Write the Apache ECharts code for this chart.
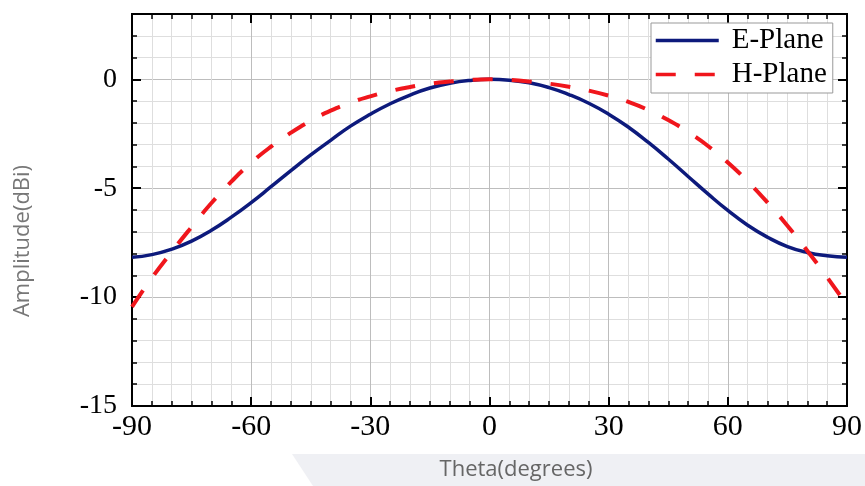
<!DOCTYPE html>
<html>
<head>
<meta charset="utf-8">
<script src="https://cdn.jsdelivr.net/npm/echarts@6/dist/echarts.min.js"></script>
<style>
html,body{margin:0;padding:0;background:#fff;}
#chart{width:865px;height:486px;}
</style>
</head>
<body>
<div id="chart"></div>
<script>
const theta = [-90,-85,-80,-75,-70,-65,-60,-55,-50,-45,-40,-35,-30,-25,-20,-15,-10,-5,0,5,10,15,20,25,30,35,40,45,50,55,60,65,70,75,80,85,90];
const ePlane = [-8.17,-8.05,-7.8,-7.43,-6.93,-6.33,-5.66,-4.93,-4.19,-3.47,-2.8,-2.15,-1.6,-1.12,-0.72,-0.4,-0.18,-0.05,0,-0.04,-0.16,-0.38,-0.7,-1.1,-1.6,-2.2,-2.9,-3.66,-4.46,-5.26,-6.02,-6.7,-7.25,-7.68,-7.95,-8.1,-8.17];
const hPlane = [-10.45,-9.12,-7.92,-6.78,-5.68,-4.7,-3.83,-3.09,-2.45,-1.9,-1.44,-1.07,-0.78,-0.54,-0.35,-0.2,-0.1,-0.03,0,-0.03,-0.1,-0.2,-0.34,-0.52,-0.75,-1.04,-1.41,-1.87,-2.42,-3.06,-3.82,-4.69,-5.66,-6.72,-7.87,-9.09,-10.37];
const seriesNames = ['E-Plane','H-Plane'];
const xTitle = 'Theta(degrees)';
const yTitle = 'Amplitude(dBi)';

const chart = echarts.init(document.getElementById('chart'), null, {renderer:'canvas'});
const serif = 'Liberation Serif';
const black = '#000';
const axisLine = {show:true, onZero:false, lineStyle:{color:black, width:2}};
const noLabel = {show:false};

const option = {
  backgroundColor:'#fff',
  animation:false,
  grid:{left:132, right:18, top:14, bottom:80, containLabel:false},
  graphic:[
    {type:'polygon', z:-10, shape:{points:[[292,454],[865,454],[865,486],[313,486]]}, style:{fill:'#eff0f4'}},
    {type:'text', x:516, y:470, style:{text:xTitle, font:'22px "Open Sans"', fill:'#666666', textAlign:'center', textVerticalAlign:'middle'}},
    {type:'text', x:23, y:241, rotation:Math.PI/2, style:{text:yTitle, font:'22px "Open Sans"', fill:'#777777', textAlign:'center', textVerticalAlign:'middle'}}
  ],
  legend:{
    data:seriesNames, orient:'vertical', left:651, top:23,
    backgroundColor:'#fff', borderColor:'#999', borderWidth:1, borderRadius:0,
    padding:[3,6,4,3], itemGap:5, itemWidth:63, itemHeight:14,
    itemStyle:{opacity:0},
    lineStyle:{width:3.5},
    textStyle:{fontFamily:serif, fontSize:29, color:black, padding:[0,0,0,8]}
  },
  xAxis:[
    {type:'value', min:-90, max:90, interval:30, position:'bottom',
     axisLine:axisLine,
     axisTick:{show:true, inside:true, length:9, lineStyle:{color:black, width:2}},
     minorTick:{show:true, splitNumber:6, length:5, lineStyle:{color:black, width:1.5}},
     splitLine:{show:true, lineStyle:{color:'#bdbdbd', width:1}},
     minorSplitLine:{show:true, lineStyle:{color:'#dedede', width:1}},
     axisLabel:{fontFamily:serif, fontSize:30, color:black, margin:6}},
    {type:'value', min:-90, max:90, interval:30, position:'top',
     axisLine:axisLine,
     axisTick:{show:true, inside:true, length:9, lineStyle:{color:black, width:2}},
     minorTick:{show:true, splitNumber:6, length:5, lineStyle:{color:black, width:1.5}},
     splitLine:{show:false}, axisLabel:noLabel}
  ],
  yAxis:[
    {type:'value', min:-15, max:3, interval:1, position:'left',
     axisLine:axisLine,
     axisTick:{show:true, inside:true, length:5, lineStyle:{color:black, width:1.5}},
     splitLine:{show:true, lineStyle:{color:'#dedede', width:1}},
     axisLabel:noLabel},
    {type:'value', min:-15, max:3, interval:5, position:'left',
     axisLine:axisLine,
     axisTick:{show:true, inside:true, length:9, lineStyle:{color:black, width:2}},
     splitLine:{show:true, lineStyle:{color:'#bdbdbd', width:1}},
     axisLabel:{fontFamily:serif, fontSize:28, color:black, margin:15, showMaxLabel:false}},
    {type:'value', min:-15, max:3, interval:1, position:'right',
     axisLine:axisLine,
     axisTick:{show:true, inside:true, length:5, lineStyle:{color:black, width:1.5}},
     splitLine:{show:false}, axisLabel:noLabel},
    {type:'value', min:-15, max:3, interval:5, position:'right',
     axisLine:axisLine,
     axisTick:{show:true, inside:true, length:9, lineStyle:{color:black, width:2}},
     splitLine:{show:false}, axisLabel:noLabel}
  ],
  series:[
    {name:seriesNames[0], type:'line', xAxisIndex:0, yAxisIndex:0, smooth:true, symbol:'none',
     data:theta.map((t,i)=>[t, ePlane[i]]),
     lineStyle:{color:'#0d1a7c', width:3.5}, itemStyle:{color:'#0d1a7c'}, z:3},
    {name:seriesNames[1], type:'line', xAxisIndex:0, yAxisIndex:0, smooth:true, symbol:'none',
     data:theta.map((t,i)=>[t, hPlane[i]]),
     lineStyle:{color:'#f0161c', width:4, type:[20,19]}, itemStyle:{color:'#f0161c'}, z:4}
  ]
};
chart.setOption(option);
</script>
</body>
</html>
